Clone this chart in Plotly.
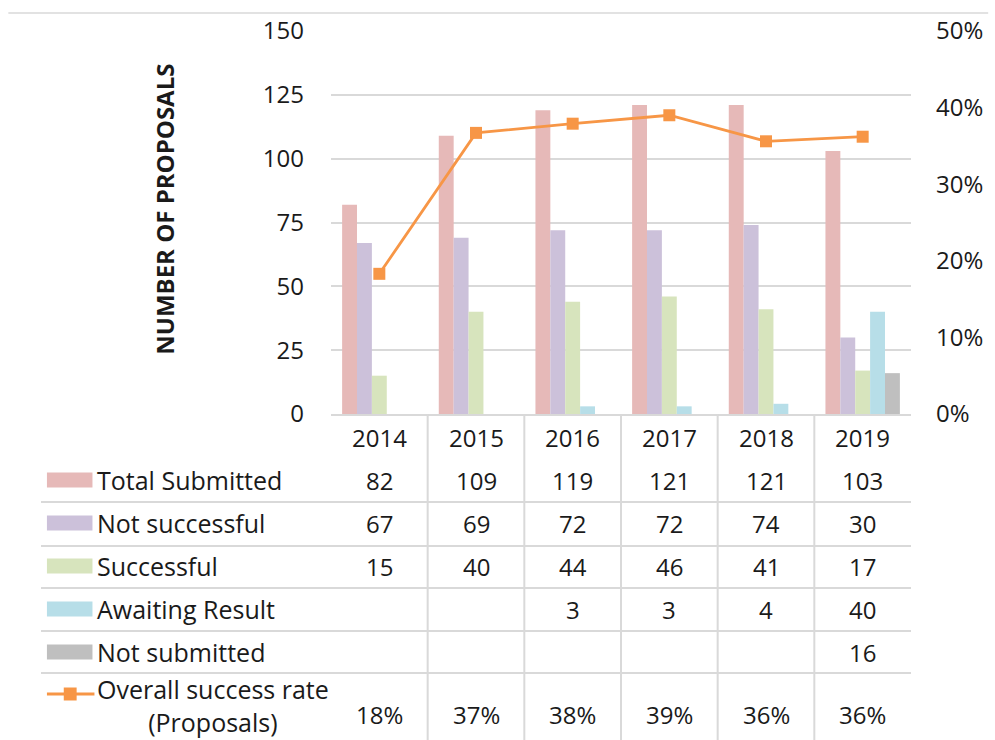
import plotly.graph_objects as go

years = ["2014", "2015", "2016", "2017", "2018", "2019"]
total_submitted = [82, 109, 119, 121, 121, 103]
not_successful = [67, 69, 72, 72, 74, 30]
successful = [15, 40, 44, 46, 41, 17]
awaiting_result = [None, None, 3, 3, 4, 40]
not_submitted = [None, None, None, None, None, 16]
success_rate = [0.183, 0.367, 0.379, 0.390, 0.356, 0.362]

bar_series = [
    ("Total Submitted", total_submitted, "#E6B9B8"),
    ("Not successful", not_successful, "#CCC1DA"),
    ("Successful", successful, "#D7E4BD"),
    ("Awaiting Result", awaiting_result, "#B7DEE8"),
    ("Not submitted", not_submitted, "#BFBFBF"),
]
rate_name = "Overall success rate<br>(Proposals)"
y_title = "NUMBER OF PROPOSALS"

FONT = "Open Sans"
TXT = "#1a1a1a"
GRID = "#D9D9D9"
ORANGE = "#F79646"
FS = 24
FS_LBL = 25

W, H = 995, 740
L, R, T, B = 331, 917, 31, 414


def px(x):
    return (x - L) / (R - L)


def py(y):
    return (B - y) / (B - T)


fig = go.Figure()
for name, vals, col in bar_series:
    fig.add_trace(go.Bar(x=years, y=vals, name=name, marker=dict(color=col, line=dict(width=0))))

fig.add_trace(go.Scatter(
    x=years, y=success_rate, name="Overall success rate (Proposals)", yaxis="y2", mode="lines+markers",
    line=dict(color=ORANGE, width=2.8),
    marker=dict(symbol="square", size=12, color=ORANGE),
))

shapes = []
annotations = []

# top border
shapes.append(dict(type="line", xref="paper", yref="paper", x0=px(5), x1=px(995), y0=py(13), y1=py(13),
                   line=dict(color=GRID, width=1.5)))

# vertical separators in table
for i in range(len(years) - 1):
    shapes.append(dict(type="line", xref="x", yref="paper", x0=i + 0.5, x1=i + 0.5, y0=py(414), y1=py(742),
                       line=dict(color=GRID, width=2)))

# horizontal row lines
for yy in [502, 546, 588, 631, 673]:
    shapes.append(dict(type="line", xref="paper", yref="paper", x0=px(38), x1=px(917), y0=py(yy), y1=py(yy),
                       line=dict(color=GRID, width=2)))

# year labels
for i, yr in enumerate(years):
    annotations.append(dict(x=i, y=py(437), xref="x", yref="paper", text=yr, showarrow=False,
                            font=dict(family=FONT, size=FS, color=TXT), xanchor="center", yanchor="middle"))

row_centers = [480, 523, 566, 609, 652]
for (name, vals, col), yc in zip(bar_series, row_centers):
    shapes.append(dict(type="rect", xref="paper", yref="paper", x0=px(44), x1=px(90),
                       y0=py(yc - 7.5), y1=py(yc + 7.5), fillcolor=col, line=dict(width=0)))
    annotations.append(dict(x=px(93), y=py(yc), xref="paper", yref="paper", text=name, showarrow=False,
                            font=dict(family=FONT, size=FS_LBL, color=TXT), xanchor="left", yanchor="middle"))
    for i, v in enumerate(vals):
        if v is not None:
            annotations.append(dict(x=i, y=py(yc), xref="x", yref="paper", text=str(v), showarrow=False,
                                    font=dict(family=FONT, size=FS, color=TXT), xanchor="center", yanchor="middle"))

# line legend key
shapes.append(dict(type="line", xref="paper", yref="paper", x0=px(44), x1=px(92), y0=py(694), y1=py(694),
                   line=dict(color=ORANGE, width=3)))
shapes.append(dict(type="rect", xref="paper", yref="paper", x0=px(61), x1=px(74), y0=py(700.5), y1=py(687.5),
                   fillcolor=ORANGE, line=dict(width=0)))
annotations.append(dict(x=px(93), y=py(705), xref="paper", yref="paper", text=rate_name, showarrow=False,
                        align="center", font=dict(family=FONT, size=FS_LBL, color=TXT),
                        xanchor="left", yanchor="middle"))
for i, v in enumerate(success_rate):
    annotations.append(dict(x=i, y=py(714), xref="x", yref="paper", text=f"{round(v * 100)}%", showarrow=False,
                            font=dict(family=FONT, size=FS, color=TXT), xanchor="center", yanchor="middle"))

# y axis title
annotations.append(dict(x=px(162), y=py(209), xref="paper", yref="paper", text=f"<b>{y_title}</b>",
                        showarrow=False, textangle=-90, font=dict(family=FONT, size=24, color=TXT),
                        xanchor="center", yanchor="middle"))

fig.update_layout(
    width=W, height=H,
    margin=dict(l=L, r=W - R, t=T, b=H - B, pad=0),
    paper_bgcolor="white", plot_bgcolor="white",
    barmode="group", bargap=0.23, bargroupgap=0,
    showlegend=False,
    font=dict(family=FONT, size=FS, color=TXT),
    xaxis=dict(type="category", showticklabels=False, showgrid=False, showline=True, linecolor=GRID,
               linewidth=2, ticks="", zeroline=False, range=[-0.5, 5.5]),
    yaxis=dict(range=[0, 150], dtick=25, showgrid=True, gridcolor=GRID, gridwidth=1.5, zeroline=False,
               showline=False, ticks="", tickfont=dict(family=FONT, size=FS, color=TXT),
               ticklabelstandoff=26),
    yaxis2=dict(range=[0, 0.5], dtick=0.1, tickformat=".0%", overlaying="y", side="right",
                showgrid=False, zeroline=False, showline=False, ticks="",
                tickfont=dict(family=FONT, size=FS, color=TXT), ticklabelstandoff=24),
    shapes=shapes,
    annotations=annotations,
)

fig.write_html("out.html", config={"displayModeBar": False},
               post_script="document.body.style.margin='0px';")
